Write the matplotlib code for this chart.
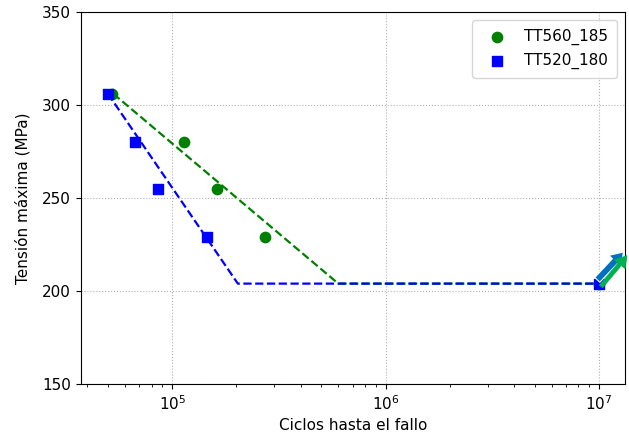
import matplotlib
matplotlib.use("Agg")
import matplotlib.pyplot as plt

# datos
ciclos_560 = [5.2e4, 1.13e5, 1.62e5, 2.72e5, 1e7]
tension_560 = [306, 280, 255, 229, 204]
ciclos_520 = [5.0e4, 6.7e4, 8.6e4, 1.46e5, 1e7]
tension_520 = [306, 280, 255, 229, 204]

# curvas de ajuste (tramo inclinado + limite de fatiga)
ajuste_560_x = [5.3e4, 6.0e5, 1e7]
ajuste_560_y = [306, 204, 204]
ajuste_520_x = [5.0e4, 2.03e5, 1e7]
ajuste_520_y = [306, 204, 204]

plt.rcParams["font.size"] = 11

fig, ax = plt.subplots(figsize=(6.29, 4.41), dpi=100)
fig.subplots_adjust(left=0.128, right=0.9935, top=0.973, bottom=0.129)

ax.plot(ajuste_560_x, ajuste_560_y, "--", color="green", lw=1.6, zorder=2)
ax.plot(ajuste_520_x, ajuste_520_y, "--", color="blue", lw=1.6, zorder=2)
ax.scatter(ciclos_560, tension_560, color="green", marker="o", s=55, label="TT560_185", zorder=3)
ax.scatter(ciclos_520, tension_520, color="blue", marker="s", s=55, label="TT520_180", zorder=3)

# flechas de ensayos sin rotura
ax.annotate("", xy=(1.30e7, 221), xytext=(9.8e6, 206), annotation_clip=False,
            arrowprops=dict(facecolor="#0070C0", edgecolor="white", width=5, headwidth=12, headlength=9, lw=0.8))
ax.annotate("", xy=(1.35e7, 219), xytext=(1.02e7, 202.5), annotation_clip=False,
            arrowprops=dict(facecolor="#00B050", edgecolor="#00B050", width=3, headwidth=10, headlength=8, lw=0.5))

ax.set_xscale("log")
ax.set_xlim(3.72e4, 1.32e7)
ax.set_ylim(150, 350)
ax.set_yticks([150, 200, 250, 300, 350])
ax.set_xlabel("Ciclos hasta el fallo")
ax.set_ylabel("Tensión máxima (MPa)", labelpad=8)
ax.grid(True, which="major", linestyle=":", color="#b0b0b0")
ax.legend(loc="upper right", borderpad=0.6)

plt.savefig("out.png")
